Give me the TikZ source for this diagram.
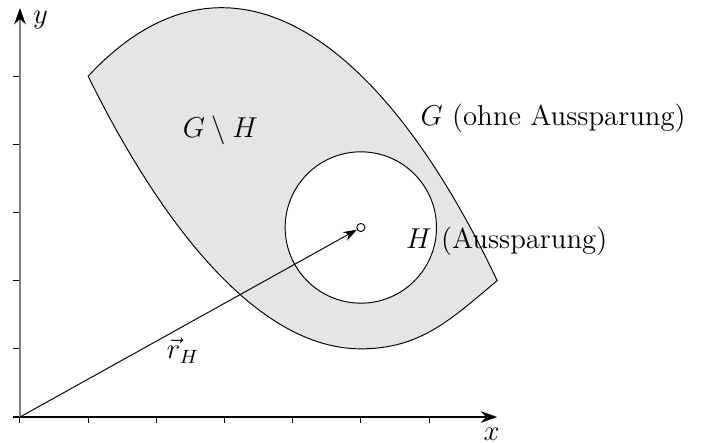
\documentclass[tikz,border=0pt,12pt]{standalone}
\usepackage{amsmath,amssymb}
\usetikzlibrary{arrows.meta}

\begin{document}
\begin{tikzpicture}[>={Stealth[length=2.4mm,width=1.7mm]}, axis/.style={semithick,->}, area/.style={draw, fill=gray!20}, tick/.style={thin}]
\useasboundingbox (-0.293,-0.381) rectangle (10.078,6.117);
\coordinate (O) at (0,0);
\coordinate (xstart) at (-0.1,0);
\coordinate (xend) at (7,0);
\coordinate (yend) at (0,6);
% Gebiet G mit Aussparung H
\draw[area] (1,5) .. controls (3.05,7.2) and (5.3,5.6) .. (7,2) .. controls (6.33,1.44) and (5.88,1) .. (5,1) .. controls (3.25,1) and (1.77,3.43) .. cycle;
\draw[fill=white] (5,2.78) circle (1.11);
\node[circle, draw, inner sep=0pt, minimum size=3.4pt] (Hc) at (5,2.78) {};
% Achsen
\foreach \i in {0,...,6} \draw[tick] (\i,0) -- (\i,-0.09);
\foreach \j in {0,...,5} \draw[tick] (0,\j) -- (-0.1,\j);
\draw[axis] (xstart) -- (xend);
\draw[axis, gray, -{Stealth[length=2.4mm,width=1.7mm,black]}] (O) -- (yend);
\node (xlbl) at (6.92,-0.25) {$x$};
\node (ylbl) at (0.3,5.82) {$y$};
% Beschriftungen
\draw[->, >={Stealth[length=2mm,width=1.4mm]}] (O) -- (Hc);
\node (rlbl) at (2.39,0.97) {$\vec r_H$};
\node (GHlbl) at (2.94,4.2) {$G\setminus H$};
\node (Glbl) at (7.82,4.38) {$G$ (ohne Aussparung)};
\node (Hlbl) at (7.14,2.58) {$H$ (Aussparung)};
\end{tikzpicture}
\end{document}
